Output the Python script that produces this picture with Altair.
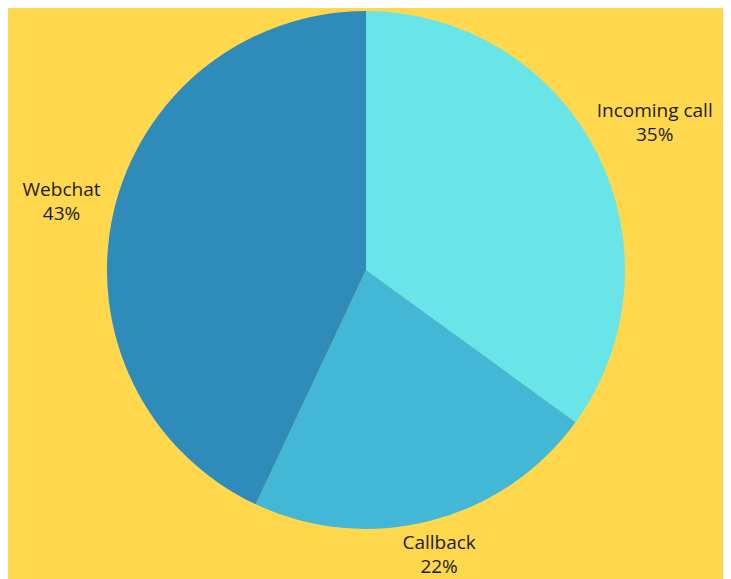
import altair as alt
import pandas as pd

categories = ["Incoming call", "Callback", "Webchat"]
values = [35, 22, 43]
colors = ["#69E5E8", "#42B7D6", "#2E8BBA"]

df = pd.DataFrame({
    "category": categories,
    "value": values,
    "order": [0, 1, 2],
})
df["label"] = df["category"] + "\n" + df["value"].astype(str) + "%"

cx, cy = 358, 262

base = alt.Chart(df).transform_window(
    cum="sum(value)", sort=[alt.SortField("order")]
).transform_calculate(
    start="datum.cum - datum.value",
    mid="datum.cum - datum.value / 2",
)

theta_scale = alt.Scale(domain=[0, 100], range=[0, 6.283185307179586])

arcs = base.mark_arc(outerRadius=259, stroke=None).encode(
    theta=alt.Theta("start:Q", scale=theta_scale),
    theta2="cum:Q",
    x=alt.value(cx), y=alt.value(cy),
    color=alt.Color("category:N", scale=alt.Scale(domain=categories, range=colors), legend=None),
)

text_style = dict(font="Open Sans", fontSize=19, color="#1c1c1c", align="center",
                  baseline="middle", lineBreak="\n", lineHeight=24, dy=-12)

label_radius = {"Incoming call": 324, "Webchat": 312, "Callback": 294}

label_layers = []
for cat in categories:
    label_layers.append(
        base.transform_filter(alt.datum.category == cat).mark_text(
            radius=label_radius[cat], **text_style
        ).encode(theta=alt.Theta("mid:Q", scale=theta_scale),
                 x=alt.value(cx), y=alt.value(cy), text="label:N")
    )

chart = alt.layer(arcs, *label_layers).properties(
    width=715, height=571, padding=0, autosize=alt.AutoSizeParams(type="none"),
    background="#FFD84E",
).configure_view(stroke=None)

chart.save("out.html", embed_options={"renderer": "svg", "actions": False})
